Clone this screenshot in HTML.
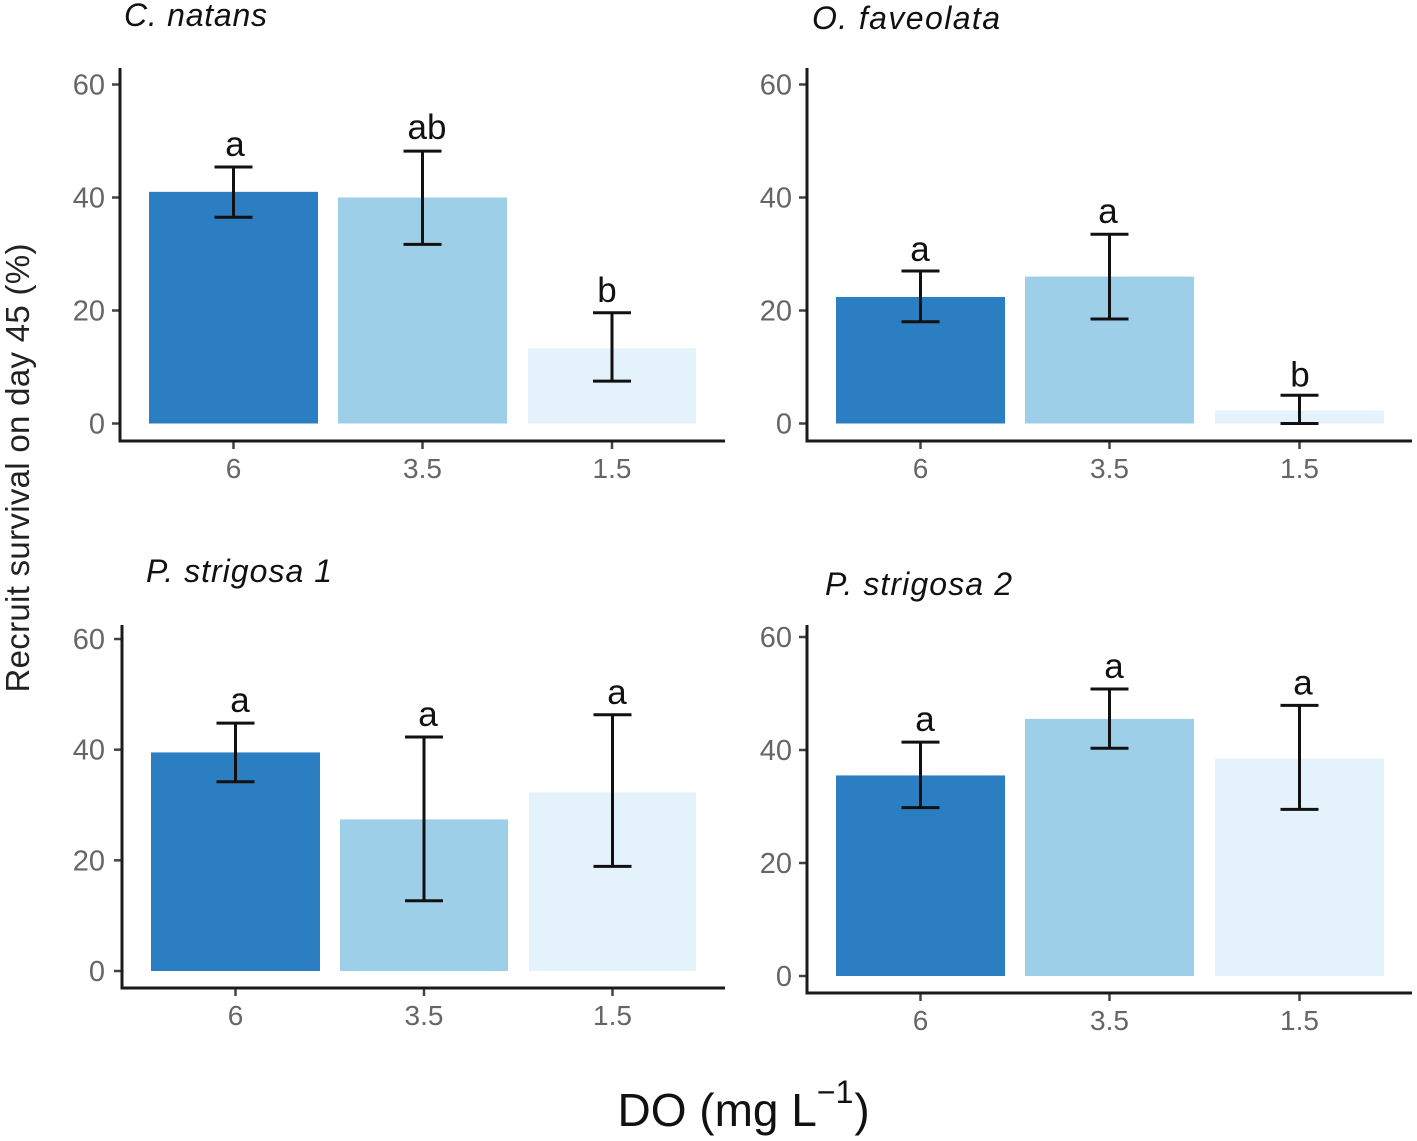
<!DOCTYPE html>
<html>
<head>
<meta charset="utf-8">
<style>
html,body{margin:0;padding:0;background:#fff;width:1417px;height:1141px;overflow:hidden}
svg{display:block;font-family:"Liberation Sans",sans-serif}
</style>
</head>
<body>
<svg id="chart" width="1417" height="1141" viewBox="0 0 1417 1141" xmlns="http://www.w3.org/2000/svg">
<text transform="translate(29,468) rotate(-90)" text-anchor="middle" font-size="33" fill="#222" textLength="449" lengthAdjust="spacing">Recruit survival on day 45 (%)</text>
<text x="617.5" y="1126" font-size="46" fill="#111">DO (mg L<tspan dy="-23" font-size="32">−1</tspan><tspan dy="23" dx="1">)</tspan></text>
</svg>
<script>
var categories = ['6', '3.5', '1.5'];
var yTicks = [0, 20, 40, 60];
var barColors = ['#2b7ec1', '#9ecfe9', '#e4f2fc'];
var panelNames = ['C. natans', 'O. faveolata', 'P. strigosa 1', 'P. strigosa 2'];
var meanValues = [[41, 40, 13.3], [22.4, 26, 2.3], [39.5, 27.4, 32.3], [35.5, 45.5, 38.5]];
var lowerValues = [[36.5, 31.7, 7.5], [18, 18.5, 0], [34.2, 12.7, 18.9], [29.8, 40.3, 29.5]];
var upperValues = [[45.4, 48.2, 19.6], [27, 33.5, 5], [44.8, 42.3, 46.3], [41.4, 50.8, 47.9]];
var letterValues = [['a', 'ab', 'b'], ['a', 'a', 'b'], ['a', 'a', 'a'], ['a', 'a', 'a']];

var layouts = [
  {axisX:120, axisY:441, top:68,  right:725,  zeroY:423.5, sixtyY:84.5, barX:[149,338,528],   barW:[169,169,168], titleX:124, titleY:26,  titleW:143, labelGap:15, letterDX:[1.5,4.5,-5], letterDY:[11,12,11]},
  {axisX:807, axisY:441, top:68,  right:1412, zeroY:423.5, sixtyY:84.5, barX:[836,1025,1215], barW:[169,169,169], titleX:812, titleY:29,  titleW:188, labelGap:15, letterDX:[-0.5,-1.5,0.5], letterDY:[10,11,9]},
  {axisX:122, axisY:988, top:625, right:725,  zeroY:971,   sixtyY:639,  barX:[151,340,529],   barW:[169,168,167], titleX:146, titleY:582, titleW:186, labelGap:17, letterDX:[4.5,4,4.5], letterDY:[11,11,11]},
  {axisX:807, axisY:993, top:625, right:1412, zeroY:976,   sixtyY:637,  barX:[836,1025,1215], barW:[169,169,169], titleX:825, titleY:595, titleW:187, labelGap:15, letterDX:[4.5,4.5,3.5], letterDY:[11,11,11]}
];

var svg = document.getElementById('chart');
var NS = 'http://www.w3.org/2000/svg';
function make(tag, attrs, parent) {
  var el = document.createElementNS(NS, tag);
  for (var k in attrs) { el.setAttribute(k, attrs[k]); }
  parent.appendChild(el);
  return el;
}

panelNames.forEach(function (name, p) {
  var L = layouts[p];
  function yScale(v) { return L.zeroY + (L.sixtyY - L.zeroY) * v / 60; }
  var g = make('g', {}, svg);
  
  

  var title = make('text', {x: L.titleX, y: L.titleY, 'font-size': 32, 'font-style': 'italic', fill: '#111', textLength: L.titleW, lengthAdjust: 'spacing'}, g);
  title.textContent = name;
  
  

  categories.forEach(function (cat, i) {
    var bx = L.barX[i], bw = L.barW[i], cx = bx + bw / 2;
    var top = yScale(meanValues[p][i]);
    var bar = make('rect', {x: bx, y: top, width: bw, height: L.zeroY - top, fill: barColors[i]}, g);
    
    

    var hi = yScale(upperValues[p][i]), lo = yScale(lowerValues[p][i]);
    var err = make('path', {d: 'M' + (cx - 19) + ' ' + hi + 'H' + (cx + 19) + 'M' + cx + ' ' + hi + 'V' + lo + 'M' + (cx - 19) + ' ' + lo + 'H' + (cx + 19), stroke: '#111', 'stroke-width': 3, fill: 'none'}, g);
    
    

    var letter = make('text', {x: cx + L.letterDX[i], y: hi - L.letterDY[i], 'text-anchor': 'middle', 'font-size': 35, fill: '#111'}, g);
    letter.textContent = letterValues[p][i];
    
    

    var tick = make('line', {x1: cx, x2: cx, y1: L.axisY, y2: L.axisY + 8, stroke: '#444', 'stroke-width': 2.5}, g);
    
    

    var label = make('text', {x: cx, y: L.axisY + 37, 'text-anchor': 'middle', 'font-size': 28, fill: '#666'}, g);
    label.textContent = cat;
    
    
  });

  yTicks.forEach(function (t) {
    var y = yScale(t);
    var tick = make('line', {x1: L.axisX - 8, x2: L.axisX, y1: y, y2: y, stroke: '#444', 'stroke-width': 2.5}, g);
    
    

    var label = make('text', {x: L.axisX - L.labelGap, y: y + 10, 'text-anchor': 'end', 'font-size': 29, fill: '#666'}, g);
    label.textContent = t;
    
    
  });

  var axes = make('path', {d: 'M' + L.axisX + ' ' + L.top + 'V' + L.axisY + 'H' + L.right, stroke: '#1a1a1a', 'stroke-width': 3, fill: 'none'}, g);
  
  
});
</script>
</body>
</html>
